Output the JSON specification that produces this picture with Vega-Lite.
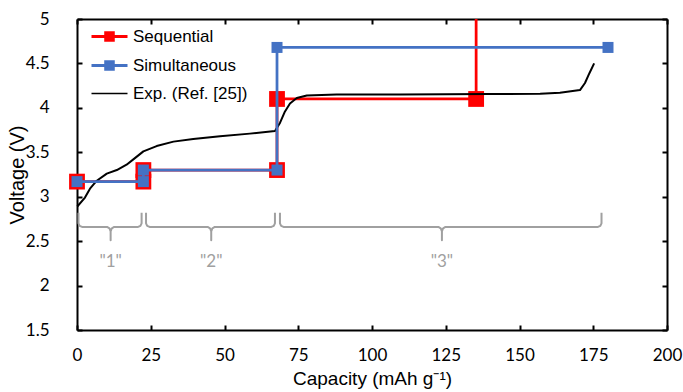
{
  "$schema": "https://vega.github.io/schema/vega-lite/v6.json",
  "width": 590,
  "height": 311,
  "autosize": {"type": "none"},
  "padding": {"left": 77, "top": 19, "right": 16, "bottom": 62},
  "background": "white",
  "datasets": {
    "seq": [
      {"series": "Sequential", "o": 1, "x": 0, "y": 3.17},
      {"series": "Sequential", "o": 2, "x": 22.5, "y": 3.17},
      {"series": "Sequential", "o": 3, "x": 22.5, "y": 3.3},
      {"series": "Sequential", "o": 4, "x": 67.8, "y": 3.3},
      {"series": "Sequential", "o": 5, "x": 67.8, "y": 4.1},
      {"series": "Sequential", "o": 6, "x": 135.3, "y": 4.1},
      {"series": "Sequential", "o": 7, "x": 135.3, "y": 6}
    ],
    "sim": [
      {"series": "Simultaneous", "o": 1, "x": 0, "y": 3.17},
      {"series": "Simultaneous", "o": 2, "x": 22.5, "y": 3.17},
      {"series": "Simultaneous", "o": 3, "x": 22.5, "y": 3.3},
      {"series": "Simultaneous", "o": 4, "x": 67.8, "y": 3.3},
      {"series": "Simultaneous", "o": 5, "x": 67.8, "y": 4.68},
      {"series": "Simultaneous", "o": 6, "x": 180, "y": 4.68}
    ],
    "exp": [
      {"series": "Exp. (Ref. [25])", "o": 1, "x": 0.1, "y": 2.89},
      {"series": "Exp. (Ref. [25])", "o": 2, "x": 2.7, "y": 2.99},
      {"series": "Exp. (Ref. [25])", "o": 3, "x": 4.4, "y": 3.09},
      {"series": "Exp. (Ref. [25])", "o": 4, "x": 6.7, "y": 3.18},
      {"series": "Exp. (Ref. [25])", "o": 5, "x": 10.1, "y": 3.26},
      {"series": "Exp. (Ref. [25])", "o": 6, "x": 13.5, "y": 3.3},
      {"series": "Exp. (Ref. [25])", "o": 7, "x": 16.8, "y": 3.36},
      {"series": "Exp. (Ref. [25])", "o": 8, "x": 19.1, "y": 3.42},
      {"series": "Exp. (Ref. [25])", "o": 9, "x": 22.5, "y": 3.51},
      {"series": "Exp. (Ref. [25])", "o": 10, "x": 27, "y": 3.57},
      {"series": "Exp. (Ref. [25])", "o": 11, "x": 32.7, "y": 3.62},
      {"series": "Exp. (Ref. [25])", "o": 12, "x": 39.4, "y": 3.65},
      {"series": "Exp. (Ref. [25])", "o": 13, "x": 48.5, "y": 3.68},
      {"series": "Exp. (Ref. [25])", "o": 14, "x": 58.6, "y": 3.71},
      {"series": "Exp. (Ref. [25])", "o": 15, "x": 67.1, "y": 3.74},
      {"series": "Exp. (Ref. [25])", "o": 16, "x": 68.8, "y": 3.83},
      {"series": "Exp. (Ref. [25])", "o": 17, "x": 70.5, "y": 3.96},
      {"series": "Exp. (Ref. [25])", "o": 18, "x": 72.2, "y": 4.05},
      {"series": "Exp. (Ref. [25])", "o": 19, "x": 74.5, "y": 4.11},
      {"series": "Exp. (Ref. [25])", "o": 20, "x": 77.9, "y": 4.14},
      {"series": "Exp. (Ref. [25])", "o": 21, "x": 88, "y": 4.15},
      {"series": "Exp. (Ref. [25])", "o": 22, "x": 109.5, "y": 4.15},
      {"series": "Exp. (Ref. [25])", "o": 23, "x": 140, "y": 4.155},
      {"series": "Exp. (Ref. [25])", "o": 24, "x": 157, "y": 4.16},
      {"series": "Exp. (Ref. [25])", "o": 25, "x": 163.7, "y": 4.17},
      {"series": "Exp. (Ref. [25])", "o": 26, "x": 170.5, "y": 4.2},
      {"series": "Exp. (Ref. [25])", "o": 27, "x": 172.2, "y": 4.28},
      {"series": "Exp. (Ref. [25])", "o": 28, "x": 173.7, "y": 4.39},
      {"series": "Exp. (Ref. [25])", "o": 29, "x": 175.3, "y": 4.5}
    ],
    "brackets": [
      {"b": "1", "o": 1, "x": 0.5, "y": 2.82},
      {"b": "1", "o": 2, "x": 0.5, "y": 2.7},
      {"b": "1", "o": 3, "x": 0.9, "y": 2.672},
      {"b": "1", "o": 4, "x": 1.7, "y": 2.66},
      {"b": "1", "o": 5, "x": 10.2, "y": 2.66},
      {"b": "1", "o": 6, "x": 11.0, "y": 2.645},
      {"b": "1", "o": 7, "x": 11.4, "y": 2.61},
      {"b": "1", "o": 8, "x": 11.4, "y": 2.51},
      {"b": "1", "o": 9, "x": 11.4, "y": 2.61},
      {"b": "1", "o": 10, "x": 11.8, "y": 2.645},
      {"b": "1", "o": 11, "x": 12.6, "y": 2.66},
      {"b": "1", "o": 12, "x": 20.7, "y": 2.66},
      {"b": "1", "o": 13, "x": 21.5, "y": 2.672},
      {"b": "1", "o": 14, "x": 21.9, "y": 2.7},
      {"b": "1", "o": 15, "x": 21.9, "y": 2.82},
      {"b": "2", "o": 1, "x": 23.4, "y": 2.82},
      {"b": "2", "o": 2, "x": 23.4, "y": 2.7},
      {"b": "2", "o": 3, "x": 23.8, "y": 2.672},
      {"b": "2", "o": 4, "x": 24.6, "y": 2.66},
      {"b": "2", "o": 5, "x": 44.3, "y": 2.66},
      {"b": "2", "o": 6, "x": 45.1, "y": 2.645},
      {"b": "2", "o": 7, "x": 45.5, "y": 2.61},
      {"b": "2", "o": 8, "x": 45.5, "y": 2.51},
      {"b": "2", "o": 9, "x": 45.5, "y": 2.61},
      {"b": "2", "o": 10, "x": 45.9, "y": 2.645},
      {"b": "2", "o": 11, "x": 46.7, "y": 2.66},
      {"b": "2", "o": 12, "x": 65.9, "y": 2.66},
      {"b": "2", "o": 13, "x": 66.7, "y": 2.672},
      {"b": "2", "o": 14, "x": 67.1, "y": 2.7},
      {"b": "2", "o": 15, "x": 67.1, "y": 2.82},
      {"b": "3", "o": 1, "x": 68.8, "y": 2.82},
      {"b": "3", "o": 2, "x": 68.8, "y": 2.7},
      {"b": "3", "o": 3, "x": 69.2, "y": 2.672},
      {"b": "3", "o": 4, "x": 70.0, "y": 2.66},
      {"b": "3", "o": 5, "x": 122.5, "y": 2.66},
      {"b": "3", "o": 6, "x": 123.3, "y": 2.645},
      {"b": "3", "o": 7, "x": 123.7, "y": 2.61},
      {"b": "3", "o": 8, "x": 123.7, "y": 2.51},
      {"b": "3", "o": 9, "x": 123.7, "y": 2.61},
      {"b": "3", "o": 10, "x": 124.1, "y": 2.645},
      {"b": "3", "o": 11, "x": 124.9, "y": 2.66},
      {"b": "3", "o": 12, "x": 176.6, "y": 2.66},
      {"b": "3", "o": 13, "x": 177.4, "y": 2.672},
      {"b": "3", "o": 14, "x": 177.8, "y": 2.7},
      {"b": "3", "o": 15, "x": 177.8, "y": 2.82}
    ],
    "labels": [
      {"t": "\"1\"", "x": 11.4, "y": 2.26},
      {"t": "\"2\"", "x": 45.5, "y": 2.26},
      {"t": "\"3\"", "x": 123.7, "y": 2.26}
    ]
  },
  "resolve": {"axis": {"x": "independent", "y": "independent"}},
  "layer": [
    {
      "data": {"name": "brackets"},
      "mark": {"type": "line", "color": "#A0A0A0", "strokeWidth": 2, "strokeJoin": "round"},
      "encoding": {
        "x": {"field": "x", "type": "quantitative", "scale": {"domain": [0, 200], "nice": false, "zero": false},
          "axis": {"orient": "bottom", "values": [0, 25, 50, 75, 100, 125, 150, 175, 200], "title": "Capacity (mAh g⁻¹)", "labelPadding": 22, "titlePadding": 6, "titleFontSize": 19, "labelFlush": false}},
        "y": {"field": "y", "type": "quantitative", "scale": {"domain": [1.5, 5], "nice": false, "zero": false},
          "axis": {"orient": "left", "values": [1.5, 2, 2.5, 3, 3.5, 4, 4.5, 5], "format": "~g", "title": "Voltage (V)", "labelPadding": 33, "titlePadding": -2, "titleFontSize": 20, "labelFlush": false}},
        "detail": {"field": "b"},
        "order": {"field": "o", "type": "quantitative"}
      }
    },
    {
      "data": {"name": "labels"},
      "mark": {"type": "text", "font": "Lato", "fontSize": 17, "color": "#A0A0A0"},
      "encoding": {
        "x": {"field": "x", "type": "quantitative", "axis": null},
        "y": {"field": "y", "type": "quantitative", "axis": null},
        "text": {"field": "t"}
      }
    },
    {
      "data": {"name": "seq"},
      "mark": {"type": "line", "strokeWidth": 2.75, "clip": true},
      "encoding": {
        "x": {"field": "x", "type": "quantitative",
          "axis": {"orient": "top", "values": [0, 25, 50, 75, 100, 125, 150, 175, 200], "labels": false, "title": null}},
        "y": {"field": "y", "type": "quantitative",
          "axis": {"orient": "right", "values": [1.5, 2, 2.5, 3, 3.5, 4, 4.5, 5], "labels": false, "title": null}},
        "order": {"field": "o", "type": "quantitative"},
        "color": {"field": "series", "type": "nominal",
          "scale": {"domain": ["Sequential", "Simultaneous", "Exp. (Ref. [25])"], "range": ["#FF0000", "#4472C4", "#000000"]},
          "legend": {
            "title": null, "orient": "none", "legendX": 24, "legendY": 9, "padding": 0,
            "symbolSize": 324, "symbolType": "M-2,0H2",
            "labelFont": "Liberation Sans", "labelFontSize": 17, "labelColor": "#000000",
            "labelOffset": 15, "rowPadding": 8,
            "encode": {"symbols": {"update": {
              "shape": {"signal": "datum.value === 'Exp. (Ref. [25])' ? 'M-2,0H2' : 'M-2,0H2M-0.42,-0.42H0.42V0.42H-0.42Z'"},
              "fill": {"signal": "datum.value === 'Sequential' ? '#FF0000' : datum.value === 'Simultaneous' ? '#4472C4' : 'transparent'"},
              "strokeWidth": {"signal": "datum.value === 'Exp. (Ref. [25])' ? 1.5 : 3"}
            }}}
          }}
      }
    },
    {
      "data": {"name": "seq"},
      "transform": [{"filter": "datum.y <= 5"}],
      "mark": {"type": "point", "shape": "square", "filled": true, "size": 250, "color": "#FF0000", "opacity": 1},
      "encoding": {
        "x": {"field": "x", "type": "quantitative", "axis": null},
        "y": {"field": "y", "type": "quantitative", "axis": null}
      }
    },
    {
      "data": {"name": "exp"},
      "mark": {"type": "line", "strokeWidth": 2, "strokeJoin": "round"},
      "encoding": {
        "x": {"field": "x", "type": "quantitative", "axis": null},
        "y": {"field": "y", "type": "quantitative", "axis": null},
        "order": {"field": "o", "type": "quantitative"},
        "color": {"field": "series", "type": "nominal"}
      }
    },
    {
      "data": {"name": "sim"},
      "mark": {"type": "line", "strokeWidth": 2.75},
      "encoding": {
        "x": {"field": "x", "type": "quantitative", "axis": null},
        "y": {"field": "y", "type": "quantitative", "axis": null},
        "order": {"field": "o", "type": "quantitative"},
        "color": {"field": "series", "type": "nominal"}
      }
    },
    {
      "data": {"name": "sim"},
      "mark": {"type": "point", "shape": "square", "filled": true, "size": 121, "color": "#4472C4", "opacity": 1},
      "encoding": {
        "x": {"field": "x", "type": "quantitative", "axis": null},
        "y": {"field": "y", "type": "quantitative", "axis": null}
      }
    }
  ],
  "config": {
    "view": {"stroke": null},
    "axis": {
      "domainColor": "#000000", "domainWidth": 2,
      "tickColor": "#000000", "tickWidth": 2, "tickSize": -5,
      "grid": false,
      "labelFont": "Lato", "labelFontSize": 17, "labelColor": "#000000",
      "titleFont": "Liberation Sans", "titleColor": "#000000", "titleFontWeight": "normal"
    }
  }
}
